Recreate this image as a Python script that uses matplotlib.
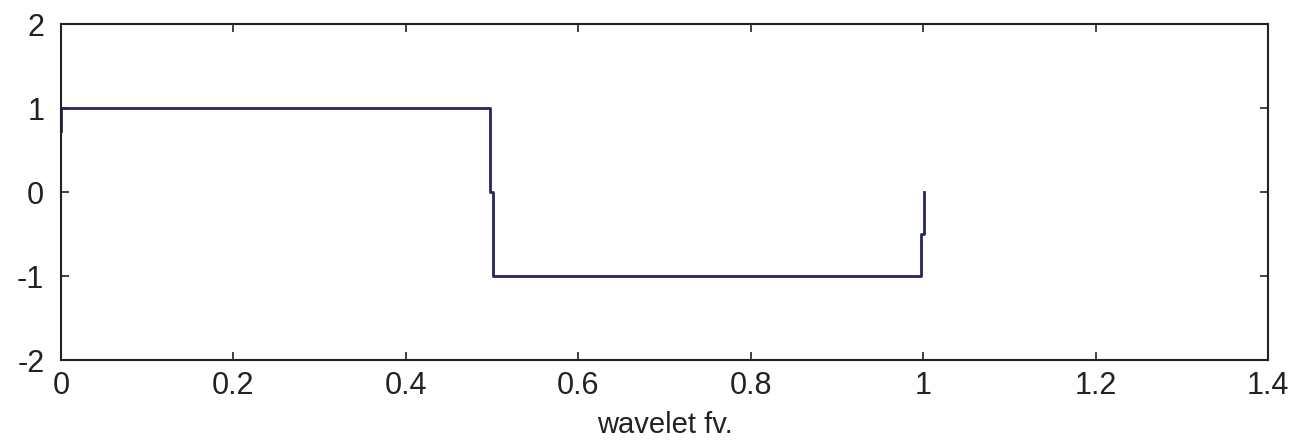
import matplotlib
matplotlib.use('Agg')
import matplotlib.pyplot as plt

# Haar wavelet samples
x_vals = [0.0, 0.0, 0.498, 0.498, 0.5014, 0.5014, 0.998, 0.998, 1.0013, 1.0013]
y_vals = [0.73, 1.0, 1.0, 0.0, 0.0, -1.0, -1.0, -0.5, -0.5, 0.0]

x_ticks = [0, 0.2, 0.4, 0.6, 0.8, 1, 1.2, 1.4]
x_tick_labels = ['0', '0.2', '0.4', '0.6', '0.8', '1', '1.2', '1.4']
y_ticks = [-2, -1, 0, 1, 2]
y_tick_labels = ['-2', '-1', '0', '1', '2']

plt.rcParams['font.family'] = ['Liberation Sans', 'DejaVu Sans']

fig = plt.figure(figsize=(12.99, 4.42), dpi=100)
ax = fig.add_axes([61 / 1299, 1 - 360 / 442, 1207 / 1299, 336 / 442])

ax.plot(x_vals, y_vals, color='#25255f', lw=2)

ax.set_xlim(0, 1.4)
ax.set_ylim(-2, 2)
ax.set_xticks(x_ticks)
ax.set_xticklabels(x_tick_labels)
ax.set_yticks(y_ticks)
ax.set_yticklabels(y_tick_labels)
ax.tick_params(direction='in', length=6, width=1.2, top=True, right=True,
               labelsize=22, colors='#222222')
ax.tick_params(axis='x', pad=8)
ax.tick_params(axis='y', pad=12)
for s in ax.spines.values():
    s.set_linewidth(1.5)
    s.set_color('#222222')

ax.set_xlabel('wavelet fv.', fontsize=21, labelpad=7, color='#222222')

fig.savefig('out.png', dpi=100)
